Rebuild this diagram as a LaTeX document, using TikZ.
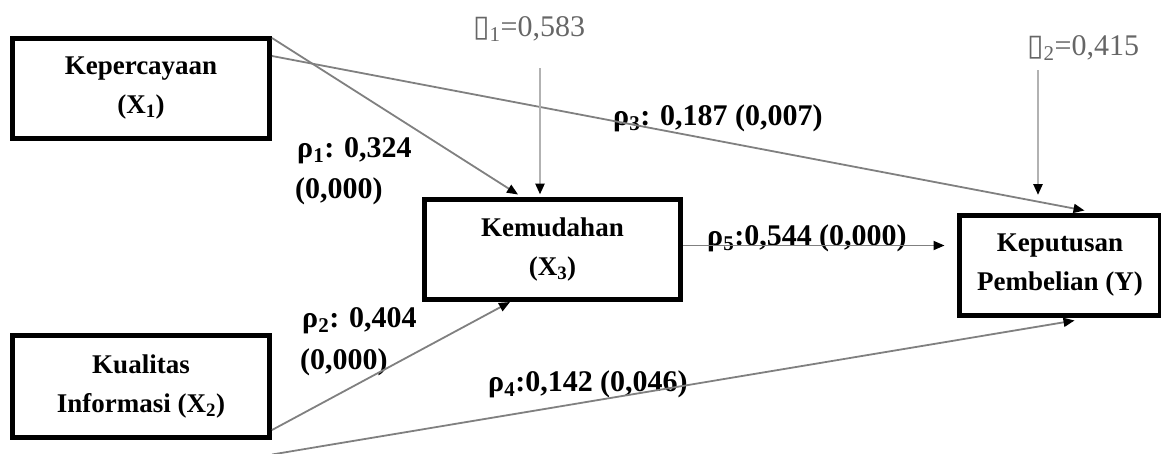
\documentclass[tikz,border=0pt]{standalone}
\usepackage{fontspec}
\setmainfont{Liberation Serif}
\newfontfamily\symfont{DejaVu Sans}
\usetikzlibrary{arrows.meta,calc}
\begin{document}
\begin{tikzpicture}[x=1pt,y=-1pt,
 box/.style={draw=black, line width=5pt, align=center, inner sep=0pt, font=\bfseries\fontsize{27}{39}\selectfont},
 lab/.style={anchor=base west, inner sep=0pt, font=\bfseries\fontsize{30}{36}\selectfont},
 elab/.style={anchor=base west, inner sep=0pt, text=black!60, font=\fontsize{30}{36}\selectfont},
 conn/.style={draw=black!50, line width=1.8pt, -{Triangle[length=11pt,width=9pt,color=black]}},
 econn/.style={draw=black!30, line width=2.5pt, -{Triangle[length=11pt,width=9pt,color=black]}},
]
\useasboundingbox (0,0) rectangle (1161,453);

% boxes
\node[box, minimum width=257pt, minimum height=100pt] (kep) at (141,88.5) {Kepercayaan\\(X\textsubscript{1})};
\node[box, minimum width=256pt, minimum height=100pt] (kem) at (552.5,249.5) {Kemudahan\\(X\textsubscript{3})};
\node[box, minimum width=201pt, minimum height=100pt] (kput) at (1060,265.5) {Keputusan\\Pembelian (Y)};
\node[box, minimum width=257pt, minimum height=102pt] (kual) at (141,386.5) {Kualitas\\Informasi (X\textsubscript{2})};

% error labels
\node[elab] (e1) at (473,36) {{\symfont ▯}\textsubscript{1}=0,583};
\node[elab] (e2) at (1027,55) {{\symfont ▯}\textsubscript{2}=0,415};

% coefficient labels
\node[lab] (r1a) at (297,157) {ρ\textsubscript{1}: 0,324};
\node[lab] (r1b) at (295,198) {(0,000)};
\node[lab] (r2a) at (302,327) {ρ\textsubscript{2}: 0,404};
\node[lab] (r2b) at (300,369) {(0,000)};
\node[lab] (r3) at (613,125) {ρ\textsubscript{3}: 0,187 (0,007)};
\node[lab] (r5) at (707,245) {ρ\textsubscript{5}:0,544 (0,000)};
\node[lab] (r4) at (488,391) {ρ\textsubscript{4}:0,142 (0,046)};

% connectors
\draw[conn] ([yshift=-2pt]kep.north east) -- ([xshift=96pt,yshift=2.5pt]kem.north west);
\draw[conn] ([yshift=-20pt]kep.north east) -- ([xshift=127.5pt,yshift=2.5pt]kput.north west);
\draw[econn] ([xshift=67pt,yshift=-32pt]e1.base west) -- ([xshift=67pt,yshift=2.5pt]e1.base west |- kem.north);
\draw[econn] ([xshift=11pt,yshift=-15pt]e2.base west) -- ([xshift=11pt,yshift=18pt]e2.base west |- kput.north);
\draw[conn] ([yshift=4pt]kem.east) -- ([yshift=4pt,xshift=-12.5pt]kem.east -| kput.west);
\draw[conn] ([yshift=10pt]kual.south east) -- ([xshift=88pt]kem.south west);
\draw[conn] ([yshift=-14.5pt]kual.south east) -- ([xshift=117.5pt,yshift=-2.5pt]kput.south west);
\end{tikzpicture}
\end{document}
